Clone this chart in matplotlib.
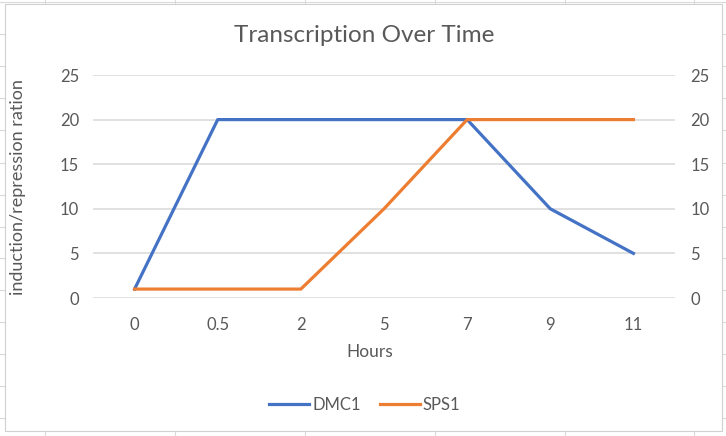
import matplotlib
matplotlib.use("Agg")
import matplotlib.pyplot as plt
from matplotlib.lines import Line2D
from matplotlib.patches import Rectangle

hours = ["0", "0.5", "2", "5", "7", "9", "11"]
dmc1 = [1, 20, 20, 20, 20, 10, 5]
sps1 = [1, 1, 1, 10, 20, 20, 20]
yticks = [0, 5, 10, 15, 20, 25]

W, H = 726, 436
plt.rcParams['font.family'] = ['Lato', 'DejaVu Sans']
txt = '#595959'
grid = '#D9D9D9'

fig = plt.figure(figsize=(W / 100, H / 100), dpi=100)

def fx(px):
    return px / W

def fy(py):
    return 1 - py / H

# spreadsheet background grid
for x in [45, 175, 305, 435, 565, 694]:
    fig.add_artist(Line2D([fx(x), fx(x)], [0, 1], color='#DADADA', lw=0.8, zorder=0))
for y in [2, 34, 66, 98, 130, 163, 195, 227, 258, 290, 322, 354, 386, 418]:
    fig.add_artist(Line2D([0, 1], [fy(y), fy(y)], color='#DADADA', lw=0.8, zorder=0))

# chart area
fig.add_artist(Rectangle((fx(5), fy(431)), fx(722) - fx(5), fy(4) - fy(431),
                         facecolor='white', edgecolor='#D0D0D0', lw=0.8, zorder=1))

ax = fig.add_axes([fx(93), fy(298), fx(675) - fx(93), fy(75) - fy(298)], zorder=2)
ax.patch.set_alpha(0)
x = list(range(len(hours)))
ax.plot(x, dmc1, color='#4472C4', lw=2.3, label='DMC1', solid_joinstyle='round', zorder=3)
ax.plot(x, sps1, color='#ED7D31', lw=2.3, label='SPS1', solid_joinstyle='round', zorder=3)
ax.set_xlim(-0.5, len(hours) - 0.5)
ax.set_ylim(0, 25)
ax.set_xticks(x)
ax.set_xticklabels(hours)
ax.set_yticks(yticks)
for s in ax.spines.values():
    s.set_visible(False)
ax.grid(axis='y', color=grid, lw=1.1, zorder=0)
ax.set_axisbelow(True)
ax.tick_params(length=0, labelsize=12, labelcolor=txt)
ax.tick_params(axis='x', pad=14)
ax.tick_params(axis='y', pad=10)

ax2 = ax.twinx()
ax2.set_ylim(0, 25)
ax2.set_yticks(yticks)
for s in ax2.spines.values():
    s.set_visible(False)
ax2.tick_params(length=0, labelsize=12, labelcolor=txt, pad=11)

fig.text(fx(364), fy(35), 'Transcription Over Time', ha='center', va='center',
         fontsize=17.5, color=txt)
fig.text(fx(370), fy(352), 'Hours', ha='center', va='center', fontsize=12.5, color=txt)
fig.text(fx(18), fy(187), 'induction/repression ration', ha='center', va='center',
         rotation=90, fontsize=13, color=txt)

handles, labels = ax.get_legend_handles_labels()
fig.legend(handles, labels, loc='center', bbox_to_anchor=(fx(365), fy(405)), ncol=2,
           frameon=False, fontsize=12, labelcolor=txt, handlelength=2.4,
           handletextpad=0.2, columnspacing=1.1)

fig.savefig('out.png', dpi=100)
